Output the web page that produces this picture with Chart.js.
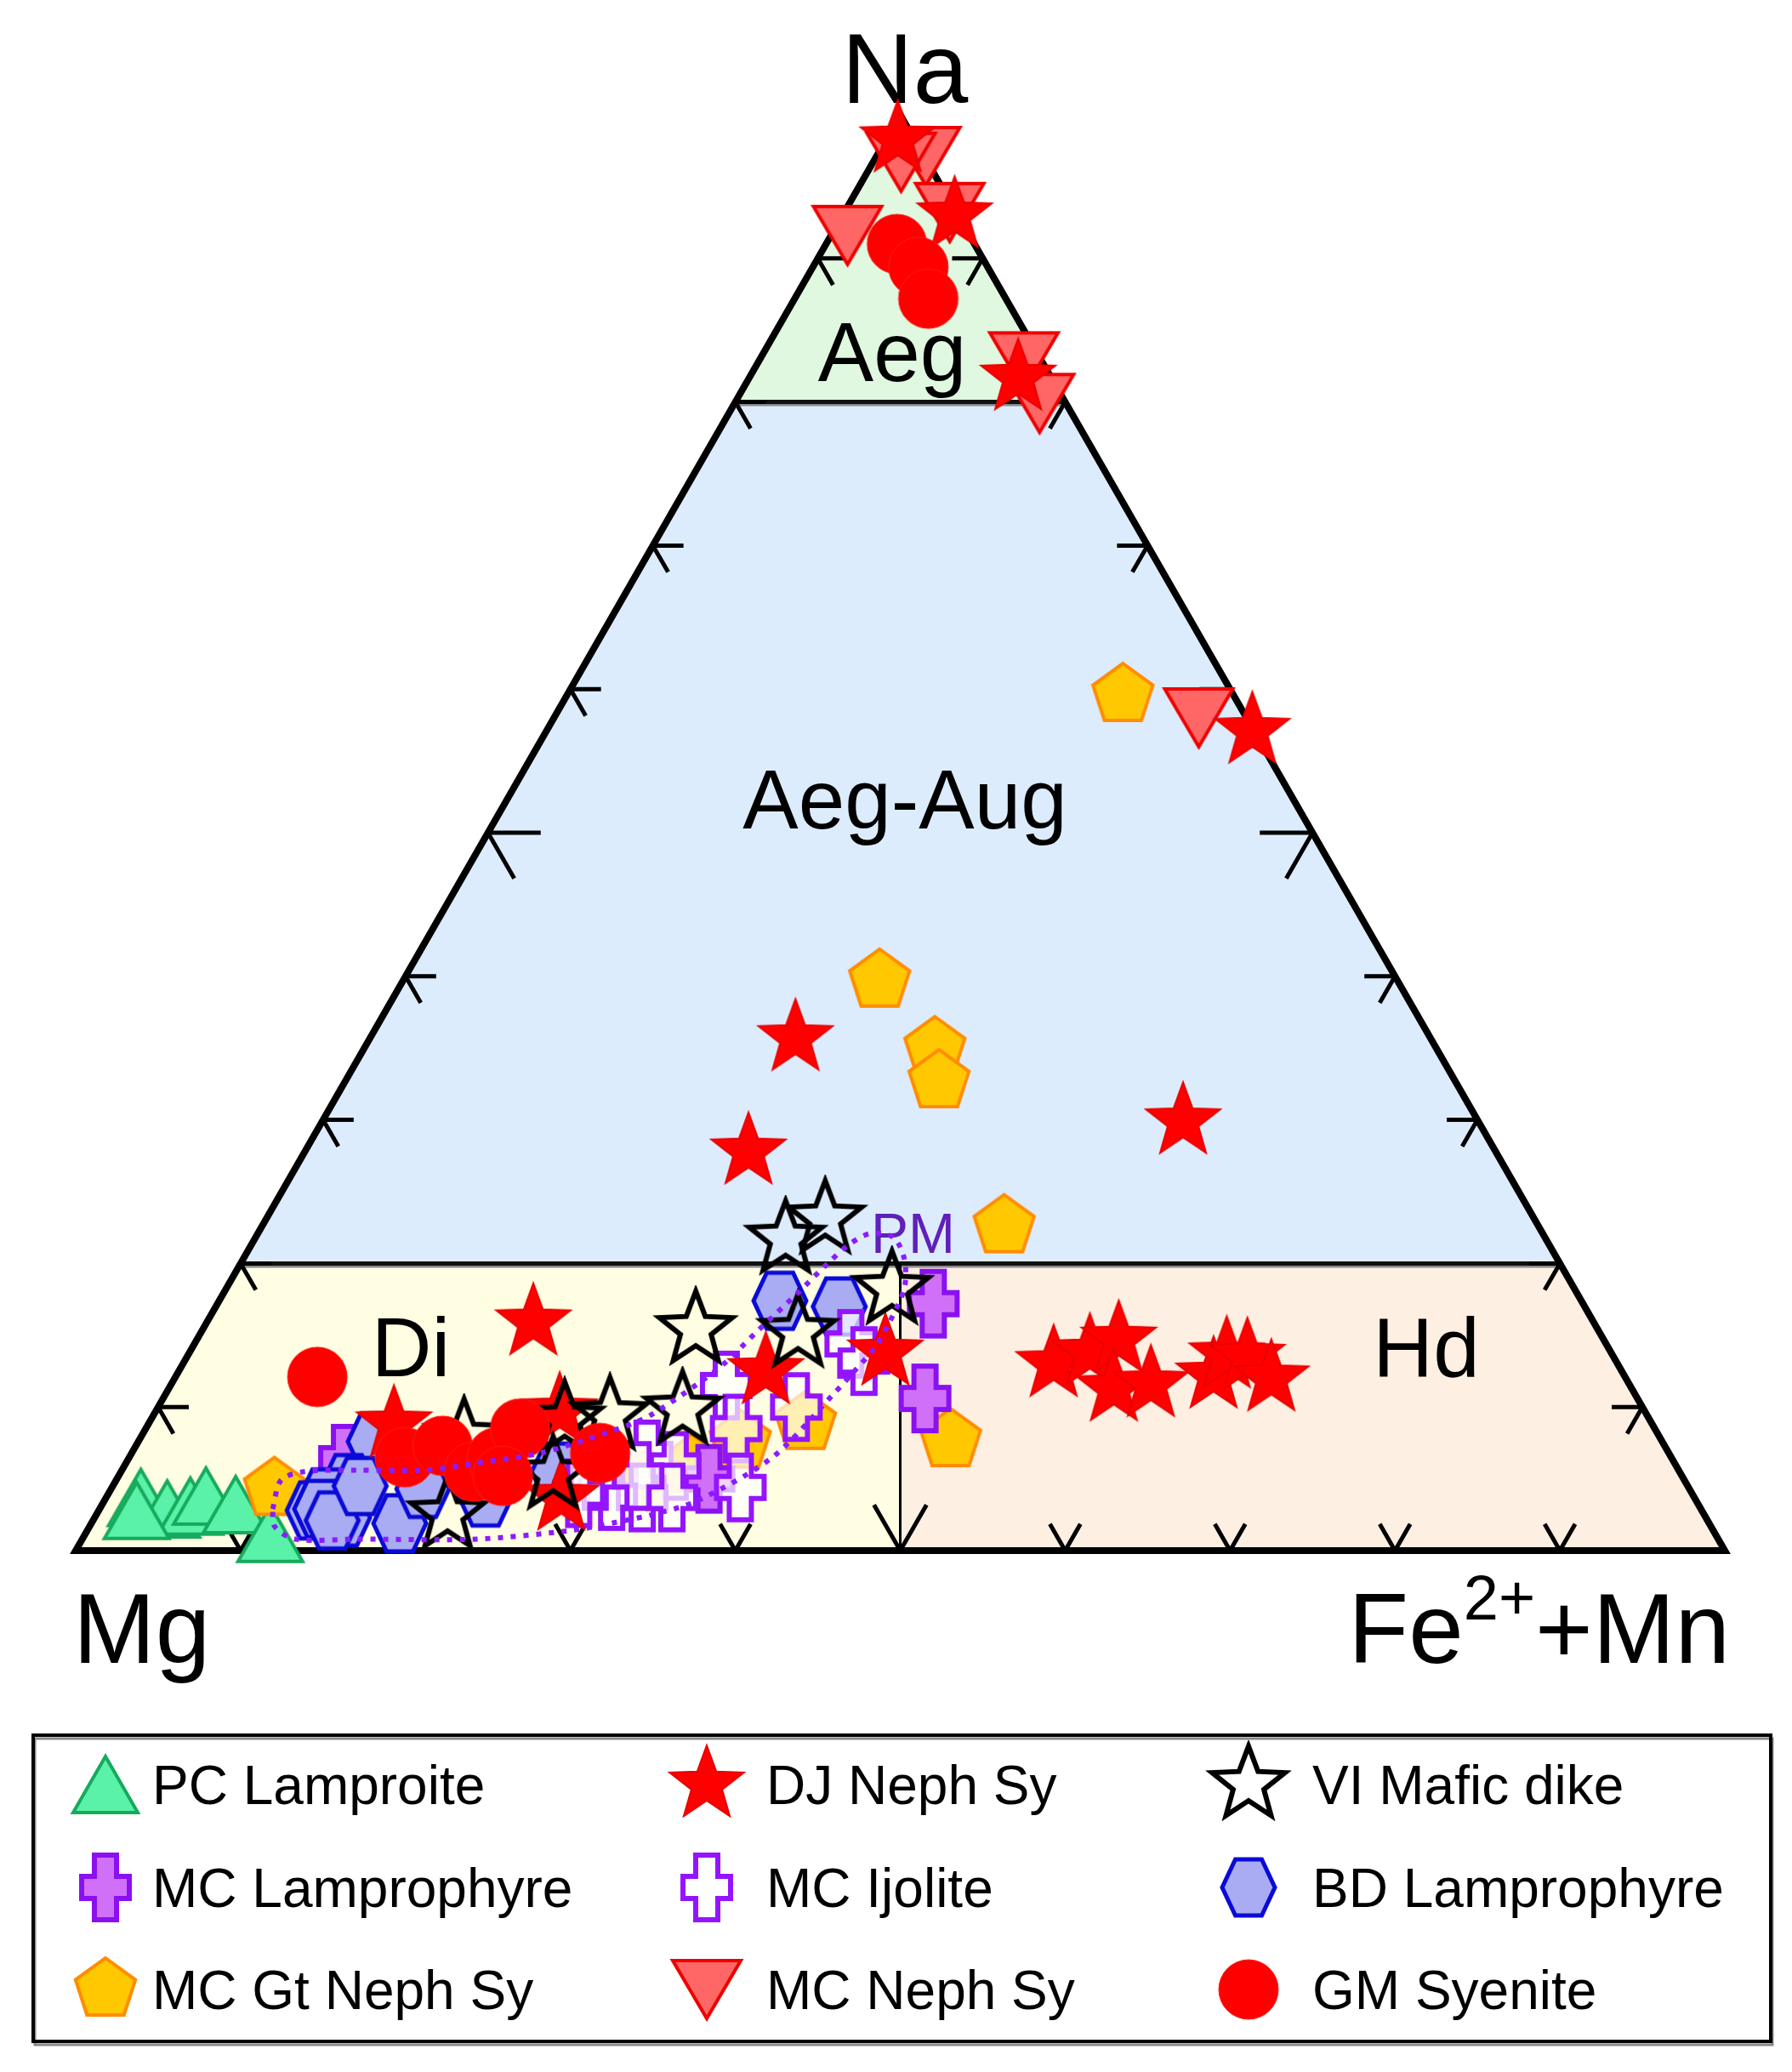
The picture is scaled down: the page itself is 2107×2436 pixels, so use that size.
<!DOCTYPE html>
<html>
<head>
<meta charset="utf-8">
<style>
  html, body { margin: 0; padding: 0; background: #fff; }
  #wrap { width: 2107px; height: 2436px; }
</style>
<script src="https://cdn.jsdelivr.net/npm/chart.js@4.4.1/dist/chart.umd.min.js"></script>
</head>
<body>
<div id="wrap"><canvas id="ternary" width="2107" height="2436"></canvas></div>
<script>
// Ternary Na - Mg - (Fe2+ + Mn), values in %, Mg = 100 - Na - Fe
const pcLamproiteNa = [3.7, 2.9, 3.1, 3.8, 3.2, 1.2, 2.8];
const pcLamproiteFe = [2.1, 4.1, 5.4, 6.0, 8.1, 11.2, 2.3];

const djNephSyNa = [98.3, 93.0, 81.7, 57.1, 35.7, 29.9, 27.8, 15.9, 12.5, 13.8, 9.7, 3.7, 8.8, 13.0, 13.8, 14.7, 11.3, 11.6, 12.2, 13.6, 13.5, 12.0];
const djNephSyFe = [0.7, 6.8, 16.3, 42.8, 25.8, 52.2, 26.9, 19.8, 35.6, 42.2, 24.5, 27.6, 14.9, 52.8, 54.6, 55.9, 57.3, 59.4, 62.9, 63.0, 64.3, 66.5];

const viMaficNa = [21.7, 23.1, 18.2, 15.2, 15.4, 9.8, 9.1, 9.4, 5.3, 7.9, 2.5];
const viMaficFe = [32.2, 33.9, 40.4, 36.2, 29.9, 31.9, 25.1, 27.7, 26.3, 19.6, 21.3];

const mcLamprophyreNa = [17.2, 10.6, 6.4, 5.0];
const mcLamprophyreFe = [43.4, 46.2, 13.1, 35.9];

const mcIjoliteNa = [11.5, 8.5, 4.4, 10.0, 14.4, 13.2, 6.7, 5.9, 3.7, 3.7, 3.8, 5.2, 4.0, 5.2];
const mcIjoliteFe = [33.7, 35.8, 38.1, 38.7, 39.8, 41.2, 31.3, 33.4, 32.5, 34.3, 30.6, 28.9, 28.5, 31.5];

const bdLamprophyreNa = [17.4, 17.0, 7.6, 4.7, 3.7, 2.8, 2.3, 1.9, 4.3, 5.5, 3.7, 2.9, 2.1, 4.5];
const bdLamprophyreFe = [34.0, 37.8, 14.3, 14.2, 13.3, 13.0, 15.1, 18.7, 18.9, 26.5, 23.0, 13.4, 14.5, 15.0];

const mcGtNephSyNa = [4.3, 59.6, 39.7, 35.0, 32.7, 22.6, 7.7, 4.9, 5.9, 7.6, 8.9];
const mcGtNephSyFe = [9.9, 33.7, 28.9, 34.6, 36.0, 45.0, 49.2, 32.2, 34.4, 36.5, 39.8];

const mcNephSyNa = [97.1, 96.7, 91.6, 93.2, 82.8, 79.9, 58.0];
const mcNephSyFe = [3.0, 1.7, 1.0, 6.4, 16.1, 18.5, 39.1];

const gmSyeniteNa = [91.0, 89.4, 87.2, 12.1, 6.5, 7.3, 5.5, 6.5, 8.5, 5.2, 6.8];
const gmSyeniteFe = [4.3, 6.4, 8.1, 8.6, 16.7, 18.6, 21.4, 22.3, 22.7, 23.3, 28.4];

// PM field outline (closed)
const pmFieldNa = [2.9, 4.9, 5.5, 5.6, 5.6, 6.1, 6.8, 8.3, 9.4, 11.6, 13.0, 15.3, 17.9, 20.0, 21.4, 22.1, 21.8, 20.3, 18.3, 15.8, 14.2, 12.6, 10.9, 6.5, 3.5, 2.6, 2.0, 1.4, 0.8, 0.8, 0.8, 1.7, 2.9];
const pmFieldFe = [10.5, 10.0, 11.1, 14.3, 18.4, 21.3, 24.8, 28.3, 30.1, 31.9, 32.8, 33.7, 34.8, 35.6, 36.3, 37.2, 38.7, 40.1, 41.1, 41.4, 41.4, 41.0, 40.5, 39.0, 36.0, 34.0, 31.9, 29.3, 23.9, 16.7, 12.9, 11.2, 10.5];

// field boundaries
const naBoundaries = [20, 80];
const tickValues = [10, 20, 30, 40, 50, 60, 70, 80, 90];

const FONT = "'Liberation Sans', Arial, sans-serif";

function toXY(na, fe) {
  return { x: fe + na / 2, y: na };
}

function series(naArr, feArr) {
  return naArr.map((na, i) => toXY(na, feArr[i]));
}

// ---- marker images ----
function markerCanvas(w, h, pts, fill, stroke, lw, round) {
  const c = document.createElement("canvas");
  c.width = w;
  c.height = h;
  const ctx = c.getContext("2d");
  ctx.translate(w / 2, h / 2);
  ctx.beginPath();
  if (round) {
    ctx.ellipse(0, 0, round[0], round[1], 0, 0, Math.PI * 2);
  } else {
    pts.forEach(([x, y], i) => (i ? ctx.lineTo(x, y) : ctx.moveTo(x, y)));
    ctx.closePath();
  }
  if (fill) {
    ctx.fillStyle = fill;
    ctx.fill();
  }
  ctx.lineJoin = "miter";
  ctx.strokeStyle = stroke;
  ctx.lineWidth = lw;
  ctx.stroke();
  return c;
}

function starPts(R, r) {
  const p = [];
  for (let i = 0; i < 10; i++) {
    const a = -Math.PI / 2 + (i * Math.PI) / 5;
    const rad = i % 2 ? r : R;
    p.push([rad * Math.cos(a), rad * Math.sin(a)]);
  }
  return p;
}

function ngonPts(n, r) {
  const p = [];
  for (let i = 0; i < n; i++) {
    const a = -Math.PI / 2 + (i * 2 * Math.PI) / n;
    p.push([r * Math.cos(a), r * Math.sin(a)]);
  }
  return p;
}

const crossPts = [[-13, -38], [13, -38], [13, -13], [28, -13], [28, 13], [13, 13], [13, 38], [-13, 38], [-13, 13], [-28, 13], [-28, -13], [-13, -13]];

const MARKERS = {
  pc: markerCanvas(88, 78, [[0, -33], [38, 33], [-38, 33]], "#5af2a8", "#17aa5c", 4),
  dj: markerCanvas(100, 100, starPts(46, 19), "#ff0000", "#e80000", 2),
  vi: markerCanvas(104, 104, starPts(45, 19), null, "#000000", 6),
  mcL: markerCanvas(70, 90, crossPts, "#d070f8", "#8a10f0", 6),
  mcI: markerCanvas(70, 90, crossPts, "rgba(255,255,255,0.7)", "#9514ff", 6),
  bd: markerCanvas(74, 80, [[-31, 0], [-15.5, -33], [15.5, -33], [31, 0], [15.5, 33], [-15.5, 33]], "#a9acf2", "#0a0ad8", 5),
  gt: markerCanvas(84, 84, ngonPts(5, 37), "#ffc800", "#ff8c00", 4),
  mcN: markerCanvas(92, 80, [[-40, -34], [40, -34], [0, 34]], "#ff6666", "#ee0000", 4),
  gm: markerCanvas(74, 74, null, "#ff0000", "#ff1a1a", 1, [35, 35]),
};

const legendItems = [
  ["PC Lamproite", "pc"], ["DJ Neph Sy", "dj"], ["VI Mafic dike", "vi"],
  ["MC Lamprophyre", "mcL"], ["MC Ijolite", "mcI"], ["BD Lamprophyre", "bd"],
  ["MC Gt Neph Sy", "gt"], ["MC Neph Sy", "mcN"], ["GM Syenite", "gm"],
];

function pointSet(label, key, naArr, feArr, order) {
  return {
    label,
    data: series(naArr, feArr),
    pointStyle: MARKERS[key],
    pointRadius: 30,
    order,
    clip: false,
  };
}

// ---- frame, fields, ticks, labels ----
const ternaryFrame = {
  id: "ternaryFrame",
  beforeDatasetsDraw(chart) {
    const { ctx, scales: { x, y } } = chart;
    const P = (na, fe) => {
      const p = toXY(na, fe);
      return [x.getPixelForValue(p.x), y.getPixelForValue(p.y)];
    };
    const poly = (pts, fill) => {
      ctx.beginPath();
      pts.forEach(([na, fe], i) => {
        const [px, py] = P(na, fe);
        i ? ctx.lineTo(px, py) : ctx.moveTo(px, py);
      });
      ctx.closePath();
      ctx.fillStyle = fill;
      ctx.fill();
    };
    const [lo, hi] = naBoundaries;
    ctx.save();
    poly([[hi, 0], [hi, 100 - hi], [100, 0]], "#e0f8e0");
    poly([[lo, 0], [lo, 100 - lo], [hi, 100 - hi], [hi, 0]], "#ddecfc");
    poly([[0, 0], [0, 50], [lo, 50 - lo / 2], [lo, 0]], "#fffde2");
    poly([[0, 50], [0, 100], [lo, 100 - lo], [lo, 50 - lo / 2]], "#fdefe2");

    const seg = (a, b, lw, color) => {
      ctx.beginPath();
      ctx.moveTo(a[0], a[1]);
      ctx.lineTo(b[0], b[1]);
      ctx.lineWidth = lw;
      ctx.strokeStyle = color;
      ctx.stroke();
    };

    // field boundaries
    ctx.lineCap = "butt";
    naBoundaries.forEach((n) => {
      const a = P(n, 0), b = P(n, 100 - n);
      seg([a[0], a[1] + 3], [b[0], b[1] + 3], 4, "#8a8a8a");
      seg(a, b, 5, "#111");
    });
    seg(P(0, 50), P(lo, 50 - lo / 2), 3, "#000");

    // triangle
    const A = P(100, 0), L = P(0, 0), R = P(0, 100);
    ctx.beginPath();
    ctx.moveTo(L[0], L[1]);
    ctx.lineTo(R[0], R[1]);
    ctx.lineTo(A[0], A[1]);
    ctx.closePath();
    ctx.lineWidth = 8;
    ctx.lineJoin = "miter";
    ctx.strokeStyle = "#000";
    ctx.stroke();

    const unit = (p, q) => {
      const dx = q[0] - p[0], dy = q[1] - p[1];
      const d = Math.hypot(dx, dy);
      return [dx / d, dy / d];
    };
    const dAR = unit(A, R), dAL = unit(A, L), dRA = unit(R, A), dLA = unit(L, A);
    const tick = (p, dir, len) => seg(p, [p[0] + dir[0] * len, p[1] + dir[1] * len], 5, "#000");
    tickValues.forEach((n) => {
      const len = n === 50 ? 62 : 36;
      const pl = P(n, 0);
      tick(pl, [1, 0], len);
      tick(pl, dAR, len);
      const pr = P(n, 100 - n);
      tick(pr, [-1, 0], len);
      tick(pr, dAL, len);
      const pb = P(0, n);
      tick(pb, dRA, len);
      tick(pb, dLA, len);
    });

    // labels
    ctx.fillStyle = "#000";
    ctx.textBaseline = "alphabetic";
    ctx.textAlign = "center";
    ctx.font = `98px ${FONT}`;
    ctx.fillText("Aeg", 1049, 448);
    ctx.fillText("Aeg-Aug", 1064, 974);
    ctx.fillText("Di", 483, 1618);
    ctx.fillText("Hd", 1677, 1618);
    ctx.font = `116px ${FONT}`;
    ctx.fillText("Na", 1064, 121);
    ctx.textAlign = "left";
    ctx.fillText("Mg", 86, 1955);
    // Fe2+ + Mn, right aligned
    const big = `116px ${FONT}`, small = `74px ${FONT}`;
    ctx.font = big;
    const w1 = ctx.measureText("Fe").width, w3 = ctx.measureText("+Mn").width;
    ctx.font = small;
    const w2 = ctx.measureText("2+").width;
    const sx = 2034 - (w1 + w2 + w3);
    ctx.font = big;
    ctx.fillText("Fe", sx, 1955);
    ctx.font = small;
    ctx.fillText("2+", sx + w1, 1904);
    ctx.font = big;
    ctx.fillText("+Mn", sx + w1 + w2, 1955);

    ctx.font = `66px ${FONT}`;
    ctx.fillStyle = "#6020b8";
    ctx.fillText("PM", 1024, 1473);
    ctx.restore();
  },
  afterDraw(chart) {
    const { ctx } = chart;
    ctx.save();
    ctx.strokeStyle = "#888";
    ctx.lineWidth = 3;
    ctx.strokeRect(41, 2044, 2043, 360);
    ctx.strokeStyle = "#000";
    ctx.lineWidth = 4;
    ctx.strokeRect(39, 2040, 2043, 360);
    const colMarker = [124, 831, 1468];
    const colText = [179, 901, 1543];
    const rows = [2098, 2219, 2339];
    ctx.font = `64px ${FONT}`;
    ctx.textAlign = "left";
    ctx.textBaseline = "alphabetic";
    legendItems.forEach(([label, key], i) => {
      const r = Math.floor(i / 3), c = i % 3;
      const img = MARKERS[key];
      ctx.drawImage(img, colMarker[c] - img.width / 2, rows[r] - img.height / 2);
      ctx.fillStyle = "#000";
      ctx.fillText(label, colText[c], rows[r] + 23);
    });
    ctx.restore();
  },
};

new Chart(document.getElementById("ternary"), {
  type: "scatter",
  data: {
    datasets: [
      {
        label: "PM field",
        data: series(pmFieldNa, pmFieldFe),
        showLine: true,
        pointRadius: 0,
        borderColor: "#8a1cff",
        borderWidth: 6,
        borderDash: [6, 9],
        borderCapStyle: "butt",
        tension: 0.3,
        fill: false,
        order: 1,
        clip: false,
      },
      pointSet("GM Syenite", "gm", gmSyeniteNa, gmSyeniteFe, 2),
      pointSet("VI Mafic dike", "vi", viMaficNa, viMaficFe, 3),
      pointSet("DJ Neph Sy", "dj", djNephSyNa, djNephSyFe, 4),
      pointSet("MC Neph Sy", "mcN", mcNephSyNa, mcNephSyFe, 5),
      pointSet("MC Ijolite", "mcI", mcIjoliteNa, mcIjoliteFe, 6),
      pointSet("BD Lamprophyre", "bd", bdLamprophyreNa, bdLamprophyreFe, 7),
      pointSet("MC Lamprophyre", "mcL", mcLamprophyreNa, mcLamprophyreFe, 8),
      pointSet("MC Gt Neph Sy", "gt", mcGtNephSyNa, mcGtNephSyFe, 9),
      pointSet("PC Lamproite", "pc", pcLamproiteNa, pcLamproiteFe, 10),
    ],
  },
  options: {
    responsive: false,
    animation: false,
    events: [],
    layout: { padding: { left: 89, right: 79, top: 135, bottom: 613 } },
    scales: {
      x: { type: "linear", min: 0, max: 100, display: false },
      y: { type: "linear", min: 0, max: 100, display: false },
    },
    plugins: { legend: { display: false }, tooltip: { enabled: false } },
  },
  plugins: [ternaryFrame],
});
</script>
</body>
</html>
